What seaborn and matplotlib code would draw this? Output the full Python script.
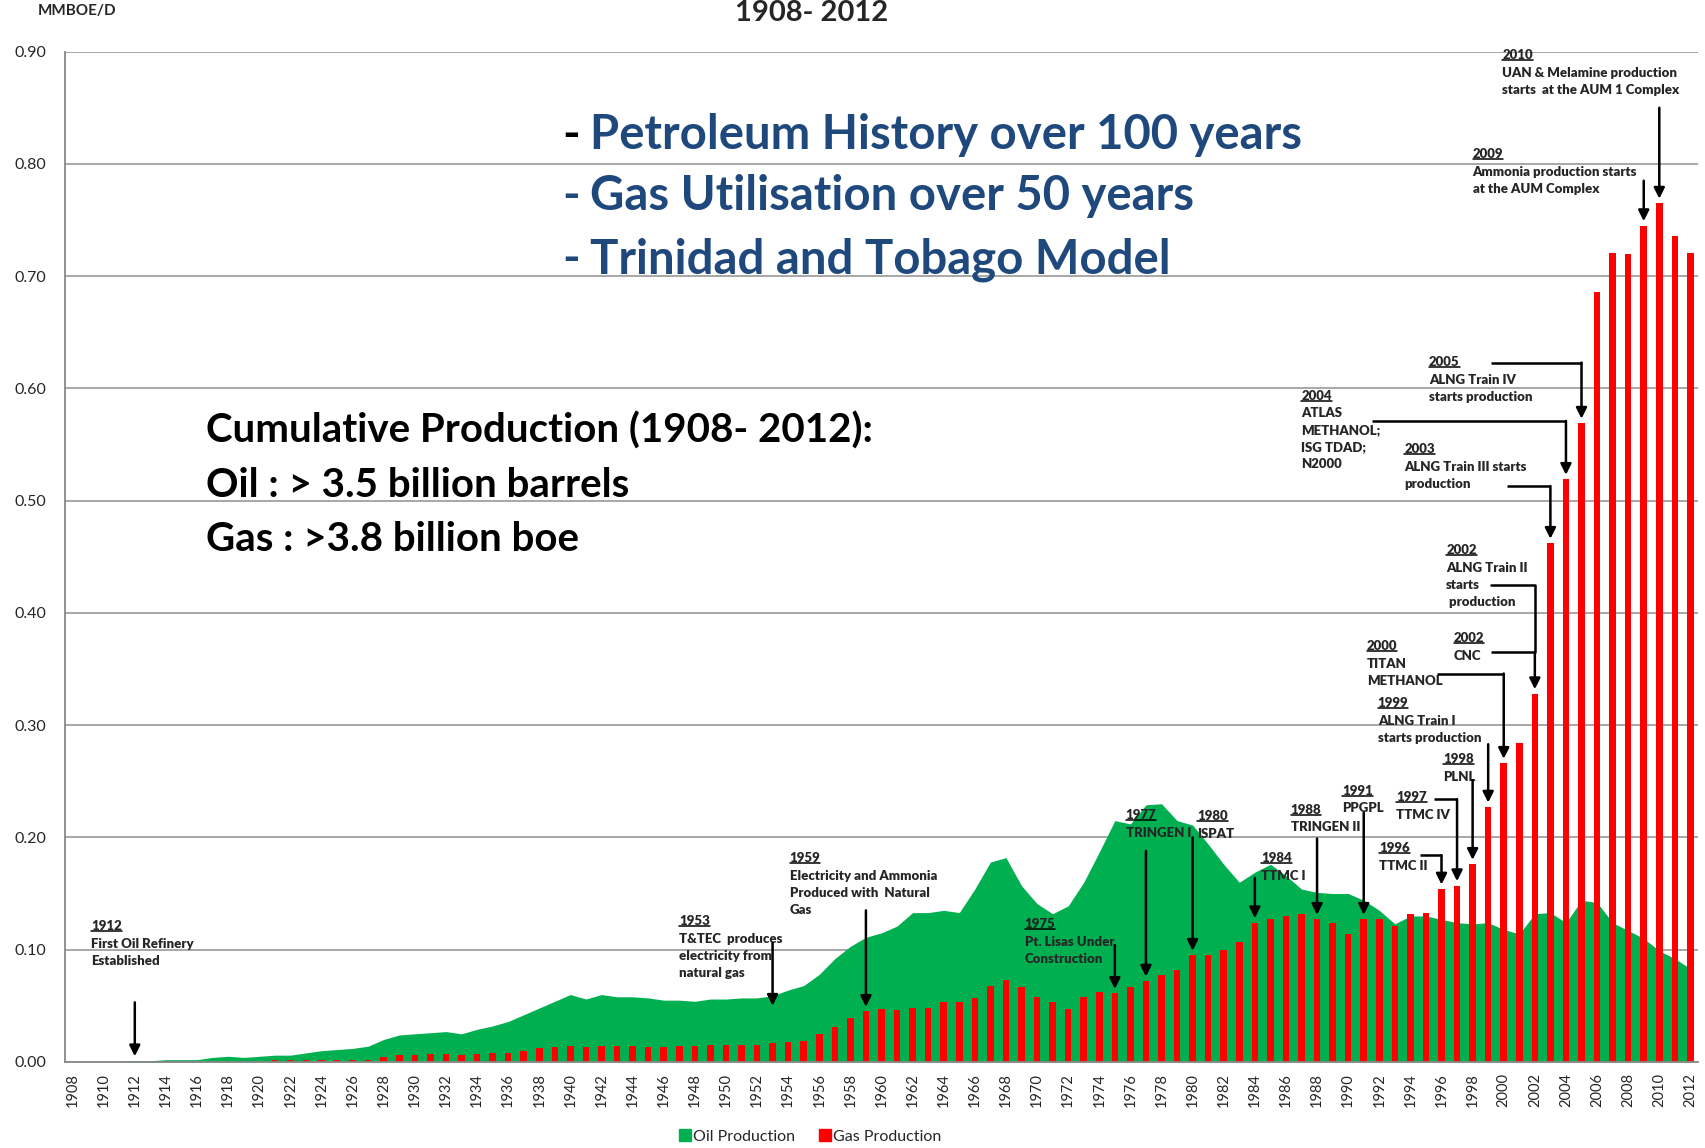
import numpy as np
import seaborn as sns
import matplotlib
matplotlib.use("Agg")
import matplotlib.pyplot as plt
from matplotlib.lines import Line2D

years = list(range(1908, 2013))

oil = [0, 0, 0, 0, 0.001, 0.001, 0.002, 0.002, 0.002, 0.004,
       0.005, 0.004, 0.005, 0.006, 0.006, 0.008, 0.010, 0.011, 0.012, 0.014,
       0.020, 0.024, 0.025, 0.026, 0.027, 0.025, 0.029, 0.032, 0.036, 0.042,
       0.048, 0.054, 0.060, 0.056, 0.060, 0.058, 0.058, 0.057, 0.055, 0.055,
       0.054, 0.056, 0.056, 0.057, 0.057, 0.059, 0.064, 0.068, 0.078, 0.092,
       0.103, 0.111, 0.115, 0.121, 0.133, 0.133, 0.135, 0.133, 0.154, 0.178,
       0.182, 0.157, 0.141, 0.132, 0.139, 0.160, 0.187, 0.215, 0.212, 0.229,
       0.230, 0.215, 0.211, 0.194, 0.176, 0.160, 0.169, 0.176, 0.166, 0.154,
       0.151, 0.150, 0.150, 0.144, 0.135, 0.123, 0.130, 0.130, 0.127, 0.124,
       0.123, 0.124, 0.118, 0.114, 0.132, 0.133, 0.124, 0.144, 0.142, 0.124,
       0.117, 0.110, 0.099, 0.092, 0.083]

gas = [0, 0, 0, 0, 0, 0, 0, 0, 0, 0,
       0, 0, 0, 0.0015, 0.0015, 0.0015, 0.0015, 0.002, 0.002, 0.002,
       0.004, 0.006, 0.006, 0.007, 0.007, 0.006, 0.007, 0.008, 0.008, 0.010,
       0.012, 0.013, 0.014, 0.013, 0.014, 0.014, 0.014, 0.013, 0.013, 0.014,
       0.014, 0.015, 0.015, 0.015, 0.015, 0.017, 0.018, 0.019, 0.025, 0.031,
       0.039, 0.045, 0.047, 0.046, 0.048, 0.048, 0.053, 0.053, 0.057, 0.068,
       0.073, 0.067, 0.058, 0.053, 0.047, 0.058, 0.062, 0.061, 0.067, 0.072,
       0.077, 0.082, 0.095, 0.095, 0.100, 0.107, 0.124, 0.127, 0.130, 0.132,
       0.127, 0.124, 0.114, 0.127, 0.127, 0.121, 0.132, 0.133, 0.154, 0.157,
       0.176, 0.227, 0.266, 0.284, 0.328, 0.462, 0.519, 0.569, 0.686, 0.721,
       0.720, 0.745, 0.765, 0.736, 0.721]

# (year label, description, text x [category index], text top y)
notes = [
    ("1912", "First Oil Refinery\nEstablished", 1.2, 0.126),
    ("1953", "T&TEC  produces\nelectricity from\nnatural gas", 39.0, 0.131),
    ("1959", "Electricity and Ammonia\nProduced with  Natural\nGas", 46.1, 0.187),
    ("1975", "Pt. Lisas Under\nConstruction", 61.2, 0.128),
    ("1977", "TRINGEN I", 67.7, 0.225),
    ("1980", "ISPAT", 72.3, 0.224),
    ("1984", "TTMC I", 76.4, 0.187),
    ("1988", "TRINGEN II", 78.3, 0.230),
    ("1991", "PPGPL", 81.6, 0.247),
    ("1996", "TTMC II", 84.0, 0.196),
    ("1997", "TTMC IV", 85.1, 0.241),
    ("1998", "PLNL", 88.1, 0.275),
    ("1999", "ALNG Train I\nstarts production", 83.9, 0.325),
    ("2000", "TITAN\nMETHANOL", 83.2, 0.376),
    ("2002", "CNC", 88.8, 0.383),
    ("2002", "ALNG Train II\nstarts\n production", 88.3, 0.461),
    ("2003", "ALNG Train III starts\nproduction", 85.6, 0.551),
    ("2004", "ATLAS\nMETHANOL;\nISG TDAD;\nN2000", 79.0, 0.599),
    ("2005", "ALNG Train IV\nstarts production", 87.2, 0.629),
    ("2009", "Ammonia production starts\nat the AUM Complex", 90.0, 0.814),
    ("2010", "UAN & Melamine production\nstarts  at the AUM 1 Complex", 91.9, 0.902),
]

# straight arrows: (year, start y, tip y or None -> just above the bar)
straight_arrows = [
    (1912, 0.053, 0.005), (1953, 0.106, 0.050), (1959, 0.135, None),
    (1975, 0.104, None), (1977, 0.188, None), (1980, 0.200, None),
    (1984, 0.164, None), (1988, 0.199, None), (1991, 0.222, None),
    (1998, 0.251, None), (1999, 0.283, None), (2009, 0.785, None),
    (2010, 0.850, None),
]

# elbow arrows: (year, start x [category index], horizontal y)
elbow_arrows = [
    (1996, 86.6, 0.184), (1997, 87.5, 0.234), (2000, 87.7, 0.346),
    (2002, 91.2, 0.365), (2003, 92.2, 0.513), (2004, 83.5, 0.571),
    (2005, 91.2, 0.623),
]

GREEN = "#00B050"
RED = "#FF0000"
BLUE = "#1F497D"
FONT = ["Lato", "DejaVu Sans"]

sns.set_style("white")
plt.rcParams["font.family"] = FONT

fig = plt.figure(figsize=(17.05, 11.48), dpi=100)
ax = fig.add_axes([0.038, 0.075, 0.958, 0.880])

idx = np.arange(len(years))
ax.fill_between(idx, oil, color=GREEN, lw=0, zorder=1)
sns.barplot(x=years, y=gas, color=RED, saturation=1, width=0.42,
            errorbar=None, linewidth=0, ax=ax)
for p in ax.patches:
    p.set_zorder(2)
    p.set_linewidth(0)

ax.set_xlim(-0.5, len(years) - 0.5)
ax.set_ylim(0, 0.9)
ax.set_yticks(np.arange(0, 0.91, 0.1))
ax.set_yticklabels([f"{v:.2f}" for v in np.arange(0, 0.91, 0.1)], fontsize=11.5)
ax.set_xticks(idx[::2])
ax.set_xticklabels([str(y) for y in years[::2]], rotation=90, fontsize=10.5)
ax.set_xticks(np.arange(-0.5, len(years), 1), minor=True)
ax.tick_params(axis="x", which="major", length=0, pad=8)
ax.tick_params(axis="x", which="minor", length=4, color="#888888")
ax.tick_params(axis="y", length=6, color="#888888", pad=7)
ax.set_xlabel("")
ax.grid(axis="y", color="#A0A0A0", lw=1.3)
ax.set_axisbelow(True)
for s in ["top", "right"]:
    ax.spines[s].set_visible(False)
for s in ["left", "bottom"]:
    ax.spines[s].set_color("#888888")
    ax.spines[s].set_linewidth(1.3)

# annotations
year_texts = []
for label, desc, x, y in notes:
    t = ax.text(x, y, label, fontsize=9.5, fontweight="heavy", va="top", ha="left", zorder=5)
    year_texts.append(t)
    ax.text(x, y - 0.0158, desc, fontsize=9.5, fontweight="heavy", va="top", ha="left",
            linespacing=1.5, zorder=5)

arrow_kw = dict(arrowstyle="-|>", color="black", lw=1.8, mutation_scale=16,
                shrinkA=0, shrinkB=0)
for yr, y0, tip in straight_arrows:
    i = years.index(yr)
    if tip is None:
        tip = gas[i] + 0.004
    ax.annotate("", xy=(i, tip), xytext=(i, y0), arrowprops=arrow_kw, zorder=6)

for yr, x0, yh in elbow_arrows:
    i = years.index(yr)
    ax.plot([x0, i], [yh, yh], color="black", lw=1.8, zorder=6, solid_capstyle="butt")
    ax.annotate("", xy=(i, gas[i] + 0.004), xytext=(i, yh), arrowprops=arrow_kw, zorder=6)
# second 2002 note joins the CNC arrow
i02 = years.index(2002)
ax.plot([91.2, i02, i02], [0.425, 0.425, 0.365], color="black", lw=1.8, zorder=6)

# headline texts
fig.text(0.022, 0.990, "MMBOE/D", fontsize=11, fontweight="bold", va="center", ha="left")
fig.text(0.476, 0.989, "1908- 2012", fontsize=21, fontweight="bold", va="center", ha="center")

heads = ["Petroleum History over 100 years", "Gas Utilisation over 50 years",
         "Trinidad and Tobago Model"]
for k, (h, yy) in enumerate(zip(heads, [0.882, 0.829, 0.774])):
    fig.text(0.330, yy, "-", fontsize=34, fontweight="bold",
             color="black" if k == 0 else BLUE, va="center", ha="left")
    fig.text(0.346, yy, h, fontsize=34, fontweight="bold", color=BLUE,
             va="center", ha="left")

cum = ["Cumulative Production (1908- 2012):", "Oil : > 3.5 billion barrels",
       "Gas : >3.8 billion boe"]
for c, yy in zip(cum, [0.625, 0.577, 0.530]):
    fig.text(0.121, yy, c, fontsize=29, fontweight="bold", color="black",
             va="center", ha="left")

handles = [Line2D([], [], marker="s", ls="", color=GREEN, markersize=9),
           Line2D([], [], marker="s", ls="", color=RED, markersize=9)]
fig.legend(handles, ["Oil Production", "Gas Production"], loc="center",
           bbox_to_anchor=(0.475, 0.010), ncol=2, frameon=False, fontsize=11.5,
           handletextpad=0.1, columnspacing=1.5, handlelength=0.8)

# underline the year labels
fig.canvas.draw()
r = fig.canvas.get_renderer()
inv = fig.transFigure.inverted()
for t in year_texts:
    bb = t.get_window_extent(renderer=r)
    (x0, y0), (x1, _) = inv.transform([(bb.x0, bb.y0 + 1), (bb.x1, bb.y0 + 1)])
    fig.add_artist(Line2D([x0, x1], [y0, y0], color="black", lw=1.1,
                          transform=fig.transFigure))

fig.savefig("out.png", dpi=100)
